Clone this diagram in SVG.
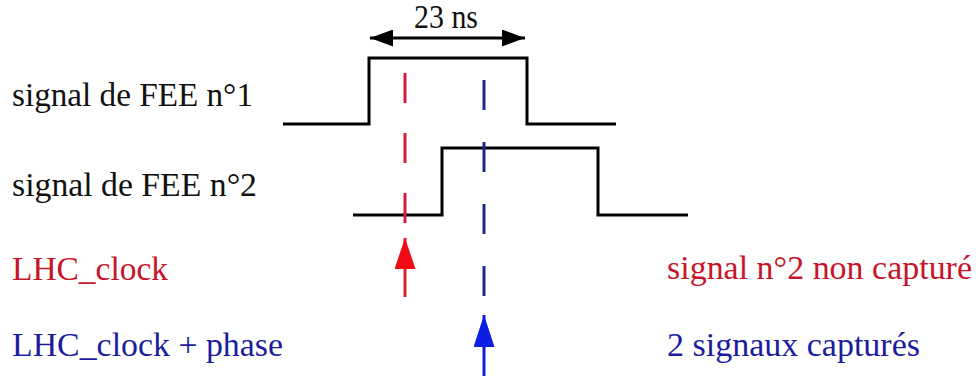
<svg xmlns="http://www.w3.org/2000/svg" width="976" height="380" viewBox="0 0 976 380">
<style>
  text { font-family: "Liberation Serif", "Times New Roman", serif; font-size: 33px; }
  .blk { fill: #111; }
  .red { fill: #c8142a; }
  .blu { fill: #1c1c9e; }
  .sig { fill: none; stroke: #000; stroke-width: 3; stroke-linejoin: miter; }
  .dash-r { stroke: #d0203c; stroke-width: 3; stroke-dasharray: 30 30; }
  .dash-b { stroke: #1c2a90; stroke-width: 3; stroke-dasharray: 30 32; }
  .shaft-r { stroke: #d8202c; stroke-width: 3; }
  .shaft-b { stroke: #1020d8; stroke-width: 3; }
</style>
<defs>
  <marker id="dbl" viewBox="0 0 23 17" refX="23" refY="8.5" markerWidth="23" markerHeight="17" markerUnits="userSpaceOnUse" orient="auto-start-reverse">
    <path d="M0,0 L23,8.5 L0,17 z" fill="#000"/>
  </marker>
  <marker id="ahr" viewBox="0 0 31 21" refX="31" refY="10.5" markerWidth="31" markerHeight="21" markerUnits="userSpaceOnUse" orient="auto">
    <path d="M0,0 L31,10.5 L0,21 z" fill="#f00a14"/>
  </marker>
  <marker id="ahb" viewBox="0 0 32 21" refX="32" refY="10.5" markerWidth="32" markerHeight="21" markerUnits="userSpaceOnUse" orient="auto">
    <path d="M0,0 L32,10.5 L0,21 z" fill="#0a1ee6"/>
  </marker>
</defs>

<g id="label-23ns"><text class="blk" x="414" y="28" font-size="29" textLength="64" lengthAdjust="spacingAndGlyphs">23 ns</text></g>
<g id="label-fee1"><text class="blk" x="12" y="106" textLength="241" lengthAdjust="spacingAndGlyphs">signal de FEE n°1</text></g>
<g id="label-fee2"><text class="blk" x="12" y="196" textLength="245" lengthAdjust="spacingAndGlyphs">signal de FEE n°2</text></g>
<g id="label-lhc"><text class="red" x="12" y="280" textLength="156" lengthAdjust="spacingAndGlyphs">LHC_clock</text></g>
<g id="label-lhc-phase"><text class="blu" x="12" y="356" textLength="271" lengthAdjust="spacingAndGlyphs">LHC_clock + phase</text></g>
<g id="label-non-capture"><text class="red" x="667" y="279" textLength="305" lengthAdjust="spacingAndGlyphs">signal n°2 non capturé</text></g>
<g id="label-captures"><text class="blu" x="667" y="356" textLength="253" lengthAdjust="spacingAndGlyphs">2 signaux capturés</text></g>

<g id="signal1"><path class="sig" d="M283,124 H369 V58 H527 V124 H616"/></g>
<g id="signal2"><path class="sig" d="M353,215 H442 V148 H598 V215 H688"/></g>

<g id="connectors">
  <line x1="370" y1="38" x2="525" y2="38" stroke="#000" stroke-width="3" marker-start="url(#dbl)" marker-end="url(#dbl)"/>
  <line class="dash-r" x1="405" y1="73" x2="405" y2="226"/>
  <line class="dash-b" x1="484" y1="80" x2="484" y2="296"/>
  <line class="shaft-r" x1="405" y1="297" x2="405" y2="238" marker-end="url(#ahr)"/>
  <line class="shaft-b" x1="484" y1="376" x2="484" y2="315" marker-end="url(#ahb)"/>
</g>
</svg>
